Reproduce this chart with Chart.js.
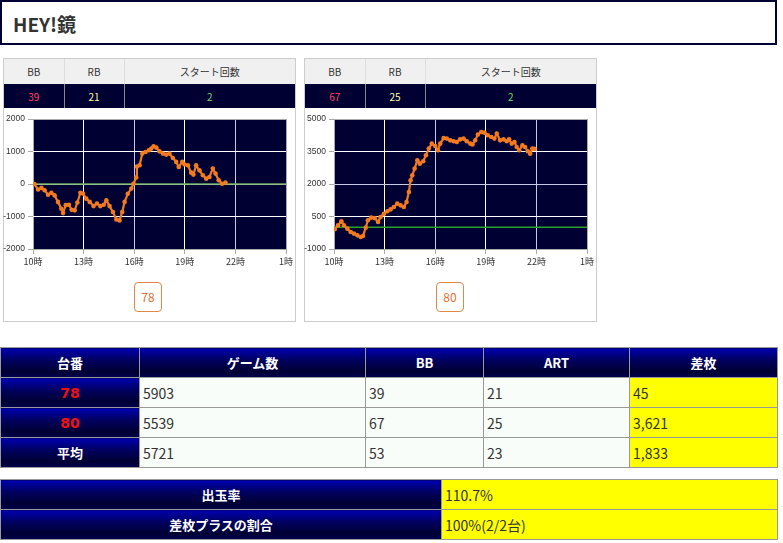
<!DOCTYPE html>
<html lang="ja">
<head>
<meta charset="UTF-8">
<script src="https://cdn.jsdelivr.net/npm/chart.js"></script>
<title>HEY!鏡</title>
<style>
    body { margin: 0; background: #fff; font-family: "Noto Sans CJK JP", "DejaVu Sans", sans-serif; color: #333; }
    .title {
        position: absolute; left: 0; top: 0;
        border: 2px solid #000033; width: 773px; height: 41px;
    }
    .title span { position: absolute; left: 11px; top: 8px; font-size: 19px; font-weight: bold; color: #333; }
    .panel {
        position: absolute; top: 58px; width: 291px; height: 262px;
        border: 1px solid #ccc;
    }
    .mini { position: absolute; left: 0; top: 0; width: 291px; border-collapse: collapse; table-layout: fixed; }
    .mini th { height: 25px; background: #f0f0f0; font-size: 10px; font-weight: normal; color: #333; border-left: 1px solid #ddd; padding: 0; }
    .mini td { height: 24px; background: #000033; font-size: 10px; text-align: center; border-left: 1px solid #888; padding: 0; }
    .mini th:first-child, .mini td:first-child { border-left: none; }
    .panel canvas { position: absolute; left: -3px; top: 51px; }
    .badge {
        position: absolute; top: 223px; width: 26px; height: 28px;
        border: 1px solid #e08848; border-radius: 4px;
        color: #e07030; font-size: 12px; line-height: 28px; text-align: center;
    }
    table.list { position: absolute; left: 0; border-collapse: collapse; table-layout: fixed; }
    table.list th, table.list td { border: 1px solid #999; padding: 0; height: 29px; }
    table.list th {
        color: #fff; font-size: 13px; font-weight: bold;
        background: linear-gradient(to bottom, #0000b0 0%, #000060 40%, #000033 80%, #000050 100%);
    }
    table.list td { font-size: 14px; color: #333; padding-left: 3px; background: #f9fdf9; }
    table.list td.y { background: #ffff00; }
    table.list th.red { color: #ee1111; font-family: "DejaVu Sans", sans-serif; font-size: 14px; }
</style>
</head>
<body>
<div class="title"><span>HEY!鏡</span></div>

<div class="panel" style="left:3px">
    <table class="mini" id="mini0"></table>
    <canvas id="c0" width="294" height="168"></canvas>
    <div class="badge" style="left:130px" id="b0"></div>
</div>
<div class="panel" style="left:304px">
    <table class="mini" id="mini1"></table>
    <canvas id="c1" width="294" height="168"></canvas>
    <div class="badge" style="left:131px" id="b1"></div>
</div>

<table class="list" id="list" style="top:347px;width:777px">
    <colgroup><col style="width:139px"><col style="width:226px"><col style="width:118px"><col style="width:146px"><col style="width:148px"></colgroup>
</table>
<table class="list" id="sum" style="top:479px;width:777px">
    <colgroup><col style="width:441px"><col style="width:336px"></colgroup>
</table>

<script>
// 台ごとのデータ
const machines = ['78', '80'];
const bbCounts = [39, 67];
const rbCounts = [21, 25];
const startCounts = [2, 2];

// 差枚グラフ (時刻, 差枚)
const hours78 = [10.08, 10.30, 10.50, 10.69, 10.89, 11.09, 11.28, 11.48, 11.68, 11.78, 11.94, 12.13, 12.29, 12.47, 12.63, 12.81, 12.96,
    13.16, 13.36, 13.59, 13.79, 13.99, 14.19, 14.35, 14.54, 14.74, 14.94, 15.13, 15.29, 15.43, 15.62, 15.83, 15.96, 16.12, 16.16,
    16.32, 16.48, 16.67, 16.87, 17.01, 17.15, 17.31, 17.50, 17.70, 17.90, 18.09, 18.29, 18.49, 18.64, 18.85, 18.98, 19.18, 19.38,
    19.51, 19.67, 19.87, 20.07, 20.27, 20.46, 20.66, 20.82, 21.01, 21.21, 21.41];
const diff78 = [0, -170, -120, -190, -330, -270, -350, -550, -760, -890, -650, -640, -790, -810, -570, -270, -290,
    -450, -550, -680, -600, -680, -640, -500, -680, -860, -1090, -1120, -860, -550, -300, -140, 10, 200, 540,
    575, 935, 985, 1040, 1090, 1160, 1120, 1005, 935, 905, 935, 800, 680, 525, 680, 600, 575, 350,
    290, 575, 420, 270, 165, 215, 475, 320, 115, 10, 45];

const hours80 = [10.04, 10.24, 10.44, 10.59, 10.79, 10.99, 11.18, 11.39, 11.58, 11.72, 11.88, 12.01, 12.21, 12.41, 12.61, 12.76, 12.96,
    13.16, 13.36, 13.55, 13.75, 13.95, 14.14, 14.30, 14.44, 14.54, 14.64, 14.78, 14.94, 15.09, 15.29, 15.45, 15.62, 15.80,
    16.00, 16.16, 16.30, 16.50, 16.69, 16.89, 17.09, 17.28, 17.48, 17.68, 17.87, 18.08, 18.21, 18.37, 18.53, 18.73, 18.92,
    19.12, 19.32, 19.51, 19.65, 19.85, 20.05, 20.24, 20.38, 20.54, 20.70, 20.83, 20.98, 21.17, 21.33, 21.49, 21.63, 21.76, 21.88];
const diff80 = [-91, 94, 280, 94, -60, -215, -290, -370, -445, -400, -15, 325, 450, 430, 245, 480, 630,
    740, 830, 940, 1095, 1015, 940, 1170, 1630, 2170, 2400, 2710, 3095, 2940, 3050, 3325, 3635, 3865,
    3755, 3555, 3865, 4120, 4095, 4015, 3970, 3940, 4060, 4095, 3970, 3865, 3820, 4015, 4280, 4400, 4370,
    4250, 4170, 4095, 4325, 4015, 4060, 3970, 4060, 3865, 3940, 3710, 3555, 3785, 3710, 3510, 3400, 3635, 3621];

// 軸
const hourTicks = [10, 13, 16, 19, 22, 25];
const hourLabels = ['10時', '13時', '16時', '19時', '22時', '1時'];
const yRange78 = [-2000, 2000, 1000];
const yRange80 = [-1000, 5000, 1500];

// 一覧表
const rowLabels = ['78', '80', '平均'];
const games = ['5903', '5539', '5721'];
const bbCol = ['39', '67', '53'];
const artCol = ['21', '25', '23'];
const diffCol = ['45', '3,621', '1,833'];
const payoutRate = '110.7%';
const plusRatio = '100%(2/2台)';

// mini tables
machines.forEach((m, i) => {
    document.getElementById('mini' + i).innerHTML =
        '<colgroup><col style="width:60px"><col style="width:60px"><col></colgroup>' +
        '<tr><th>BB</th><th>RB</th><th>スタート回数</th></tr>' +
        '<tr><td style="color:#ff4466">' + bbCounts[i] + '</td><td style="color:#ffffa0">' + rbCounts[i] +
        '</td><td style="color:#66dd66">' + startCounts[i] + '</td></tr>';
    document.getElementById('b' + i).textContent = m;
});

let html = '<tr><th>台番</th><th>ゲーム数</th><th>BB</th><th>ART</th><th>差枚</th></tr>';
rowLabels.forEach((r, i) => {
    html += '<tr><th class="' + (i < 2 ? 'red' : '') + '">' + r + '</th><td>' + games[i] + '</td><td>' + bbCol[i] +
        '</td><td>' + artCol[i] + '</td><td class="y">' + diffCol[i] + '</td></tr>';
});
document.getElementById('list').innerHTML += html;
document.getElementById('sum').innerHTML +=
    '<tr><th>出玉率</th><td class="y">' + payoutRate + '</td></tr>' +
    '<tr><th>差枚プラスの割合</th><td class="y">' + plusRatio + '</td></tr>';

const plotBg = {
    id: 'plotBg',
    beforeDraw(chart) {
        const a = chart.chartArea, ctx = chart.ctx;
        ctx.save();
        ctx.fillStyle = '#000033';
        ctx.fillRect(a.left, a.top, a.right - a.left, a.bottom - a.top);
        ctx.restore();
    }
};

function drawChart(id, hours, diffs, yr, zeroColor) {
    const pts = hours.map((h, i) => ({ x: h, y: diffs[i] }));
    const xFont = { family: 'Noto Sans CJK JP', size: 9 };
    const yFont = { family: 'Liberation Sans', size: 8.5 };
    new Chart(document.getElementById(id), {
        type: 'line',
        data: {
            datasets: [{
                data: pts,
                borderColor: '#f47a20',
                backgroundColor: '#f47a20',
                borderWidth: 2.2,
                pointRadius: 2.3,
                pointBorderWidth: 0,
                order: 0
            }, {
                data: [{ x: hourTicks[0], y: 0 }, { x: hourTicks[hourTicks.length - 1], y: 0 }],
                borderColor: zeroColor,
                borderWidth: 1.5,
                pointRadius: 0,
                order: 1
            }]
        },
        plugins: [plotBg],
        options: {
            responsive: false,
            animation: false,
            layout: { padding: { top: 9, right: 8, left: 0, bottom: 0 } },
            plugins: { legend: { display: false }, tooltip: { enabled: false } },
            scales: {
                x: {
                    type: 'linear',
                    min: hourTicks[0],
                    max: hourTicks[hourTicks.length - 1],
                    afterBuildTicks: s => { s.ticks = hourTicks.map(v => ({ value: v })); },
                    afterFit: s => { s.height = 29; },
                    ticks: {
                        font: xFont, color: '#333', padding: 2, maxRotation: 0,
                        callback: v => hourLabels[hourTicks.indexOf(v)]
                    },
                    grid: {
                        color: c => (c.index === 0 || c.index === hourTicks.length - 1) ? '#aaaaaa' : (c.index % 2 ? '#ffffff' : '#c8c8e8'),
                        tickColor: '#aaa', tickLength: 5
                    },
                    border: { display: false }
                },
                y: {
                    min: yr[0], max: yr[1],
                    ticks: { stepSize: yr[2], font: yFont, color: '#333', padding: 3, callback: v => String(v) },
                    afterFit: s => { s.width = 32; },
                    grid: {
                        color: c => (c.index === 0 || c.index === 4) ? '#aaaaaa' : (c.index === 2 && id === 'c1' ? '#c8c8e8' : '#ffffff'),
                        tickColor: '#aaa', tickLength: 5
                    },
                    border: { display: false }
                }
            }
        }
    });
}

drawChart('c0', hours78, diff78, yRange78, '#6aa862');
drawChart('c1', hours80, diff80, yRange80, '#2aa02a');
</script>
</body>
</html>
